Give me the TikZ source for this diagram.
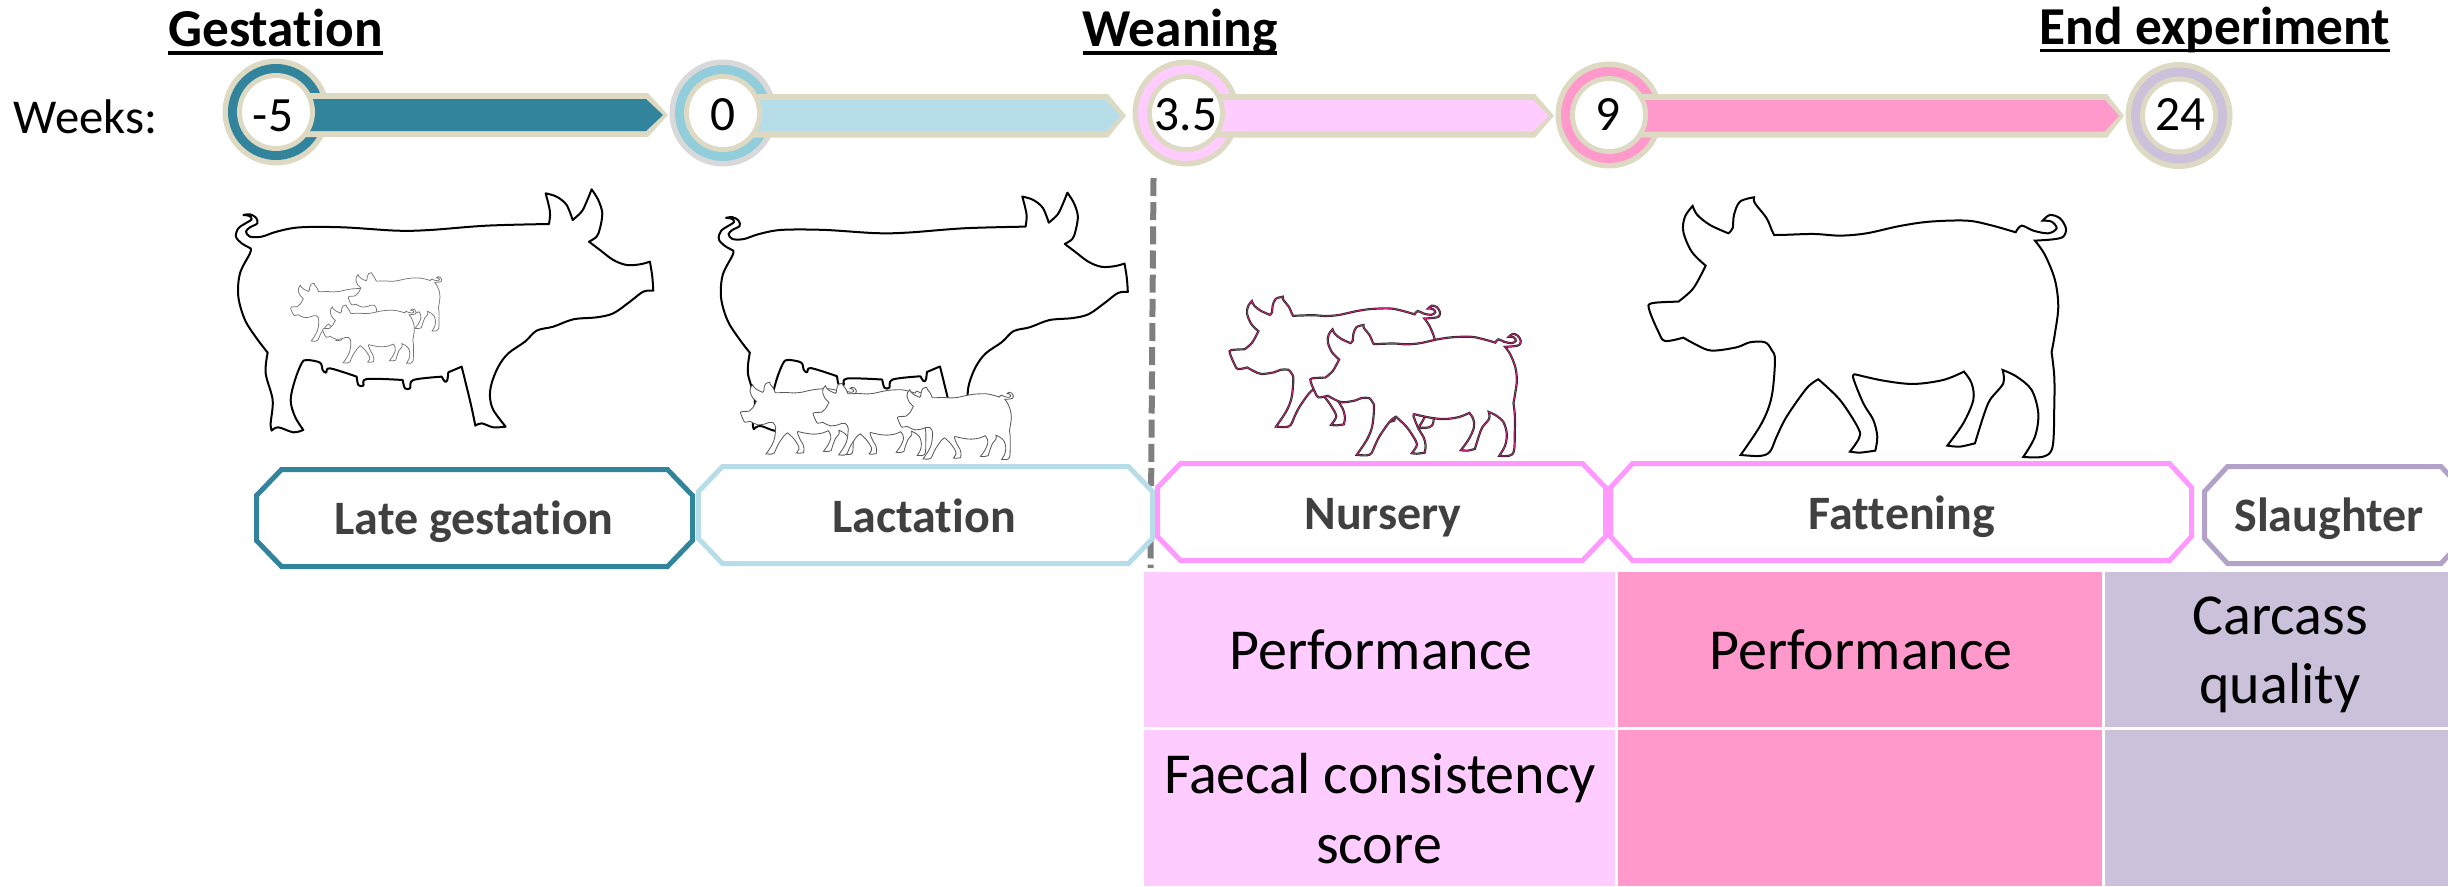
\documentclass[tikz,border=0pt]{standalone}
\usepackage{fontspec}
\setmainfont[Ligatures=NoCommon]{Carlito}
\definecolor{teal}{HTML}{31849B}
\definecolor{lblue}{HTML}{B7DEE8}
\definecolor{mblue}{HTML}{92CDDC}
\definecolor{beige}{HTML}{DDD9C3}
\definecolor{lgrey}{HTML}{D9D9D9}
\definecolor{lpink}{HTML}{FFCCFF}
\definecolor{hpink}{HTML}{FF99CC}
\definecolor{lilac}{HTML}{CCC1DA}
\definecolor{boxpink}{HTML}{FF99FF}
\definecolor{boxlilac}{HTML}{B3A2C7}
\definecolor{labgrey}{HTML}{404040}
\definecolor{dashgrey}{HTML}{7F7F7F}
\definecolor{pigpink}{HTML}{D02880}
\tikzset{
  head/.style={font=\fontsize{16}{16}\selectfont\bfseries,anchor=base,inner sep=0pt},
  weektxt/.style={font=\fontsize{14.6}{14.6}\selectfont,anchor=base,inner sep=0pt},
  numtxt/.style={font=\fontsize{14.8}{14.8}\selectfont,anchor=base,inner sep=0pt},
  boxtxt/.style={font=\fontsize{14.4}{14.4}\selectfont\bfseries,anchor=base,inner sep=0pt,text=labgrey},
  celltxt/.style={font=\fontsize{17.4}{17.4}\selectfont,anchor=base,inner sep=0pt},
  octbox/.style={line width=1.5pt,line join=miter,fill=white},
}
% pig outline facing left (fattening pig traced), origin near snout/ear extremes
\def\pigpath{plot[smooth,tension=.55] coordinates{(218,48)(232,75)(270,105)(325,130)}
 -- plot[smooth,tension=.55] coordinates{(325,130)(338,115)(342,75)(360,35)(402,22)}
 -- plot[smooth,tension=.55] coordinates{(402,22)(405,40)(440,85)(460,130)(475,135)(580,132)(660,137)(740,130)(840,108)(930,95)(1040,92)(1110,105)(1187,127)}
 -- plot[smooth,tension=.55] coordinates{(1187,127)(1205,107)(1240,122)(1285,130)(1310,115)(1295,95)(1268,92)}
 -- plot[smooth,tension=.55] coordinates{(1268,92)(1290,75)(1320,85)(1338,115)(1330,140)(1300,148)(1245,152)}
 -- plot[smooth,tension=.55] coordinates{(1245,152)(1275,195)(1305,270)(1315,350)(1305,430)(1295,487)}
 -- plot[smooth,tension=.55] coordinates{(1295,487)(1303,560)(1303,650)(1298,770)(1270,800)(1210,801)}
 -- plot[smooth,tension=.55] coordinates{(1210,801)(1245,740)(1255,670)(1235,600)(1190,560)(1148,540)}
 -- plot[smooth,tension=.55] coordinates{(1148,540)(1150,580)(1110,630)(1090,680)(1065,760)}
 -- plot[smooth,tension=.55] coordinates{(1065,760)(1020,770)(982,767)}
 -- plot[smooth,tension=.55] coordinates{(982,767)(1030,700)(1060,630)(1055,580)(1032,545)}
 -- plot[smooth,tension=.55] coordinates{(1032,545)(970,570)(880,582)(790,572)(705,553)}
 -- plot[smooth,tension=.55] coordinates{(705,553)(700,565)(730,640)(760,690)(772,740)(766,782)}
 -- plot[smooth,tension=.55] coordinates{(766,782)(720,788)(690,785)}
 -- plot[smooth,tension=.55] coordinates{(690,785)(717,745)(715,715)(660,630)(595,568)}
 -- plot[smooth,tension=.55] coordinates{(595,568)(560,595)(500,680)(470,740)(450,785)(420,798)(362,795)}
 -- plot[smooth,tension=.55] coordinates{(362,795)(425,700)(455,620)(465,510)(455,480)(435,457)(390,457)(350,472)(275,482)(230,465)(190,443)}
 -- plot[smooth,tension=.55] coordinates{(190,443)(135,453)(115,425)(88,360)(95,340)(175,335)}
 -- plot[smooth,tension=.55] coordinates{(175,335)(220,295)(257,227)}
 -- plot[smooth,tension=.55] coordinates{(257,227)(215,185)(190,125)(195,80)(218,48)} -- cycle}
% sow outline facing right
\def\sowpath{plot[smooth,tension=.55] coordinates{(152,205)(125,190)(108,170)(115,145)(140,128)(155,118)(148,108)(130,105)}
 -- plot[smooth,tension=.55] coordinates{(130,105)(150,103)(168,113)(172,130)(150,142)(138,155)(150,170)(185,170)(230,155)(300,142)(430,142)(590,152)(690,150)(860,137)(1047,132)}
 -- plot[smooth,tension=.55] coordinates{(1047,132)(1050,95)(1037,40)}
 -- plot[smooth,tension=.55] coordinates{(1037,40)(1070,50)(1100,75)(1118,120)}
 -- plot[smooth,tension=.55] coordinates{(1118,120)(1145,95)(1160,65)(1175,28)}
 -- plot[smooth,tension=.55] coordinates{(1175,28)(1195,60)(1207,100)(1200,145)(1190,170)(1167,185)}
 -- plot[smooth,tension=.55] coordinates{(1167,185)(1200,210)(1240,240)(1280,255)(1320,253)(1350,245)}
 -- plot[smooth,tension=.55] coordinates{(1350,245)(1357,290)(1360,332)}
 -- plot[smooth,tension=.55] coordinates{(1360,332)(1330,335)(1290,365)(1240,400)(1190,412)(1120,418)(1060,440)(1010,452)(975,485)(925,520)(895,560)(875,610)(870,650)(880,690)(917,740)}
 -- plot[smooth,tension=.55] coordinates{(917,740)(880,742)(845,730)(826,737)}
 -- plot[smooth,tension=.55] coordinates{(826,737)(812,670)(785,560)}
 -- plot[smooth,tension=.55] coordinates{(785,560)(745,577)}
 -- plot[smooth,tension=.55] coordinates{(745,577)(742,600)(735,605)(725,590)}
 -- plot[smooth,tension=.55] coordinates{(725,590)(640,600)(630,625)(615,625)(608,600)}
 -- plot[smooth,tension=.55] coordinates{(608,600)(500,597)(490,617)(475,615)(470,590)}
 -- plot[smooth,tension=.55] coordinates{(470,590)(390,565)(378,578)(368,570)(360,548)(320,540)(305,550)(285,600)(272,660)(285,710)(310,750)}
 -- plot[smooth,tension=.55] coordinates{(310,750)(280,757)(235,742)(215,752)}
 -- plot[smooth,tension=.55] coordinates{(215,752)(212,730)(218,660)(197,580)(203,518)}
 -- plot[smooth,tension=.55] coordinates{(203,518)(170,475)(135,420)(115,350)(120,280)(150,220)(152,205)} -- cycle}
\newcommand\drawpig[4]{\begin{scope}[shift={(#1,#2)},scale=#3,shift={(-88,-22)}]
  \path[#4] \pigpath;\end{scope}}
\newcommand\drawsow[3]{\begin{scope}[shift={(#1,#2)},scale=#3]
  \path[draw=black,line width=.6pt,fill=white,line join=round] \sowpath;\end{scope}}
% arrow bar: x0, shoulder, tip, top, bottom, colour
\newcommand\stagebar[6]{%
  \fill[beige] (#1,#4) -- (#2,#4) -- (#3,{(#4+#5)/2}) -- (#2,#5) -- (#1,#5) -- cycle;
  \fill[#6] (#1,#4+6) -- (#2-2,#4+6) -- (#3-5,{(#4+#5)/2}) -- (#2-2,#5-6) -- (#1,#5-6) -- cycle;}
\newcommand\octagon[7]{% name-free shape: x1,y1,x2,y2,cx,cy,colour
  \path[octbox,draw=#7] (#1+#5,#2) -- (#3-#5,#2) -- (#3,#2+#6) -- (#3,#4-#6) -- (#3-#5,#4) -- (#1+#5,#4) -- (#1,#4-#6) -- (#1,#2+#6) -- cycle;}
\begin{document}
\begin{tikzpicture}[x=0.3pt,y=-0.3pt]
\useasboundingbox (0,0) rectangle (2448,886);
\clip (0,0) rectangle (2448,886);
% headings
\node[head] (hgest) at (275.5,46) {Gestation};
\node[head] (hwean) at (1180,46) {Weaning};
\node[head] (hend) at (2215,44) {End experiment};
\draw[line width=.95pt] (168,53) -- (383,53);
\draw[line width=.95pt] (1083,53) -- (1277,53);
\draw[line width=.95pt] (2040,50.5) -- (2390,50.5);
\node[weektxt] (weeks) at (85.5,133) {Weeks:};
% dashed divider
\draw[dashgrey,line width=1.8pt,dash pattern=on 5.4pt off 1.85pt] (1153.5,178) -- (1150.5,568);
% stage rings
\foreach \cx/\cy/\oc/\rc in {276/112/beige/teal,723/113/lgrey/mblue,1186/113/beige/lpink,1609/115/beige/hpink,2179/115.5/beige/lilac}{
  \fill[\oc] (\cx,\cy) circle (53.5);
  \fill[\rc] (\cx,\cy) circle (48);
}
% bars
\stagebar{300}{648}{668}{93}{137}{teal}
\stagebar{745}{1108}{1126}{94}{137.5}{lblue}
\stagebar{1205}{1535}{1554}{94}{137.5}{lpink}
\stagebar{1630}{2107}{2124}{94}{137.5}{hpink}
% inner discs and numbers
\foreach \cx/\cy in {276/112,723/113,1186/113,1609/115,2179/115.5}{
  \fill[beige] (\cx,\cy) circle (39);
  \fill[white] (\cx,\cy) circle (34);
}
\node[numtxt] (w1) at (273,131) {-5};
\node[numtxt] (w2) at (723,130) {0};
\node[numtxt] (w3) at (1186,130) {3.5};
\node[numtxt] (w4) at (1608,130) {9};
\node[numtxt] (w5) at (2180,130) {24};
% sow with piglets in utero
\drawsow{200}{180}{.3333}
\drawpig{290.7}{283.3}{.0747}{draw=black!55,line width=.22pt,fill=white}
\drawpig{348.3}{272.7}{.0747}{draw=black!55,line width=.22pt,fill=white}
\drawpig{322.7}{305}{.0747}{draw=black!55,line width=.22pt,fill=white}
% lactating sow with piglets
\drawsow{683.5}{183.5}{.3267}
\drawpig{740.7}{382.3}{.0926}{draw=black!65,line width=.25pt,fill=white}
\drawpig{813.3}{383.3}{.0926}{draw=black!65,line width=.25pt,fill=white}
\drawpig{897.7}{387.3}{.0926}{draw=black!65,line width=.25pt,fill=white}
% nursery pigs
\drawpig{1230}{296.7}{.168}{draw=black!85,line width=.65pt,fill=white}
\drawpig{1230}{296.7}{.168}{draw=pigpink,line width=.22pt}
\drawpig{1310.7}{325}{.168}{draw=black!85,line width=.65pt,fill=white}
\drawpig{1310.7}{325}{.168}{draw=pigpink,line width=.22pt}
% fattening pig
\drawpig{1649.3}{197.3}{.3333}{draw=black,line width=.6pt,fill=white}
% phase boxes
\octagon{256.5}{469.5}{692.5}{566.5}{25}{26}{teal}
\octagon{698.5}{466.5}{1152.5}{563.5}{24}{25}{lblue}
\octagon{1157.5}{463.5}{1605.5}{560.5}{23}{24}{boxpink}
\octagon{1610.5}{463.5}{2191.5}{560.5}{22}{24}{boxpink}
\octagon{2204.5}{466.5}{2464}{563.5}{23}{25}{boxlilac}
\node[boxtxt] (l1) at (474,534) {Late gestation};
\node[boxtxt] (l2) at (924,532) {Lactation};
\node[boxtxt] (l3) at (1383,529) {Nursery};
\node[boxtxt] (l4) at (1902,529) {Fattening};
\node[boxtxt] (l5) at (2329,531) {Slaughter};
% table
\fill[lpink] (1144,572) rectangle (1615,727);
\fill[lpink] (1144,730) rectangle (1615,886);
\fill[hpink] (1618,572) rectangle (2102,727);
\fill[hpink] (1618,730) rectangle (2102,886);
\fill[lilac] (2105,572) rectangle (2448,727);
\fill[lilac] (2105,730) rectangle (2448,886);
\node[celltxt] (c1) at (1381,669) {Performance};
\node[celltxt] (c2) at (1861,669) {Performance};
\node[celltxt] (c3) at (2280,634) {Carcass};
\node[celltxt] (c4) at (2280,703) {quality};
\node[celltxt] (c5) at (1380,793) {Faecal consistency};
\node[celltxt] (c6) at (1379,863) {score};
\end{tikzpicture}
\end{document}
